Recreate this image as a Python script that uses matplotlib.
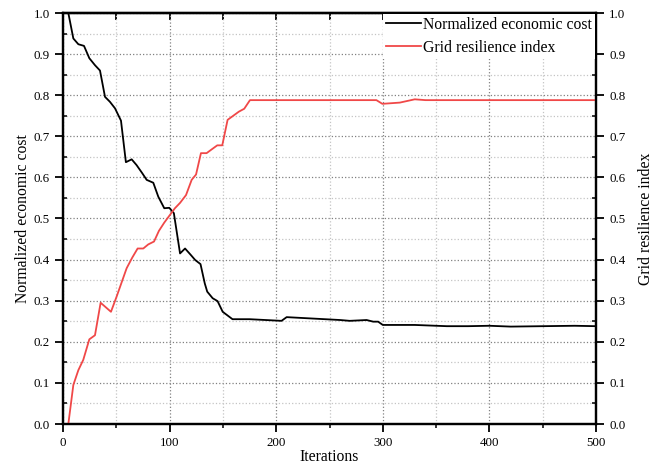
import numpy as np
import matplotlib.pyplot as plt
from matplotlib.ticker import MultipleLocator

plt.rcParams['font.family'] = ['Liberation Serif', 'DejaVu Serif']

# Normalized economic cost (left axis)
cost_iter = [5, 9.7, 14.4, 19.7, 24.7, 30, 34.7, 39.4, 44, 48.8, 54.4, 59, 64.4,
             69, 74.4, 78.5, 84.7, 89.4, 95, 99.7, 104, 109.8, 114.5, 120, 124,
             129, 133, 135.3, 140.4, 145, 149.8, 159, 175, 205, 209.8, 260, 269,
             284.8, 291, 295.6, 300, 330, 360, 380, 400, 420, 450, 480, 500]
cost_val = [1.0, 0.938, 0.924, 0.920, 0.890, 0.873, 0.860, 0.796, 0.784, 0.768,
            0.738, 0.637, 0.644, 0.630, 0.610, 0.594, 0.587, 0.553, 0.525, 0.526,
            0.513, 0.415, 0.427, 0.411, 0.399, 0.389, 0.342, 0.322, 0.306, 0.299,
            0.273, 0.255, 0.255, 0.251, 0.260, 0.253, 0.251, 0.253, 0.249, 0.249,
            0.241, 0.241, 0.238, 0.238, 0.239, 0.237, 0.238, 0.239, 0.238]

# Grid resilience index (right axis)
res_iter = [5, 9.7, 14.4, 19, 24.7, 30, 35.3, 45, 50.3, 59.7, 65, 70, 75.3, 80,
            85.4, 90, 95, 100.4, 105, 109.8, 115.4, 120.7, 124.8, 129.4, 134.7,
            139.4, 144.7, 149.4, 154.4, 159.7, 165, 170, 175.4, 294, 299.6, 316,
            330, 340, 400, 500]
res_val = [0.0, 0.095, 0.131, 0.156, 0.206, 0.216, 0.295, 0.273, 0.310, 0.379,
           0.405, 0.427, 0.427, 0.437, 0.444, 0.470, 0.490, 0.509, 0.525, 0.538,
           0.557, 0.594, 0.607, 0.659, 0.659, 0.668, 0.678, 0.678, 0.740, 0.750,
           0.760, 0.767, 0.788, 0.788, 0.779, 0.782, 0.790, 0.788, 0.788, 0.788]

fig = plt.figure(figsize=(6.61, 4.65), dpi=100)
ax1 = fig.add_axes([63 / 661, 41 / 465, 533 / 661, 411 / 465])
ax2 = ax1.twinx()

l1, = ax1.plot(cost_iter, cost_val, color='black', linewidth=1.3,
               label='Normalized economic cost')
l2, = ax2.plot(res_iter, res_val, color='#f04848', linewidth=1.3,
               label='Grid resilience index')

for ax in (ax1, ax2):
    ax.set_xlim(0, 500)
    ax.set_ylim(0, 1.0)
    ax.yaxis.set_major_locator(MultipleLocator(0.1))
    ax.yaxis.set_minor_locator(MultipleLocator(0.05))
    ax.yaxis.set_major_formatter(plt.FormatStrFormatter('%.1f'))
    for s in ax.spines.values():
        s.set_linewidth(1.6)

ax1.xaxis.set_major_locator(MultipleLocator(100))
ax1.xaxis.set_minor_locator(MultipleLocator(50))
ax1.grid(True, which='major', linestyle=':', color='#808080', linewidth=0.9)
ax1.grid(True, which='minor', linestyle=':', color='#c4c4c4', linewidth=0.9)
ax1.set_axisbelow(True)

# left / right: major out, minor in; bottom out; top in
ax1.tick_params(axis='y', which='major', direction='out', length=6, width=1.3,
                labelsize=9.3)
ax1.tick_params(axis='y', which='minor', direction='in', length=3, width=1.1)
ax1.tick_params(axis='x', which='major', direction='out', length=6, width=1.3,
                labelsize=9.3, pad=3)
ax1.tick_params(axis='x', which='minor', direction='out', length=3, width=1.1)
top = ax1.secondary_xaxis('top')
top.xaxis.set_major_locator(MultipleLocator(50))
top.tick_params(direction='in', length=5, width=1.3, labeltop=False)
top.spines['top'].set_linewidth(1.6)
ax2.tick_params(axis='y', which='major', direction='out', length=6, width=1.3,
                labelsize=9.3)
ax2.tick_params(axis='y', which='minor', direction='in', length=3, width=1.1)

ax1.set_xlabel('Iterations', fontsize=11.3, labelpad=0)
ax1.set_ylabel('Normalized economic cost', fontsize=11.3, labelpad=2)
ax2.set_ylabel('Grid resilience index', fontsize=11.3, labelpad=9)

leg = ax2.legend([l1, l2], [l1.get_label(), l2.get_label()], loc='upper right',
                 frameon=True, fontsize=11.3, borderaxespad=0.05, borderpad=0.2,
                 handlelength=2.2, handletextpad=0.15, labelspacing=0.45,
                 fancybox=False)
leg.get_frame().set_edgecolor('none')
leg.get_frame().set_alpha(1.0)

fig.savefig('out.png', dpi=100)
